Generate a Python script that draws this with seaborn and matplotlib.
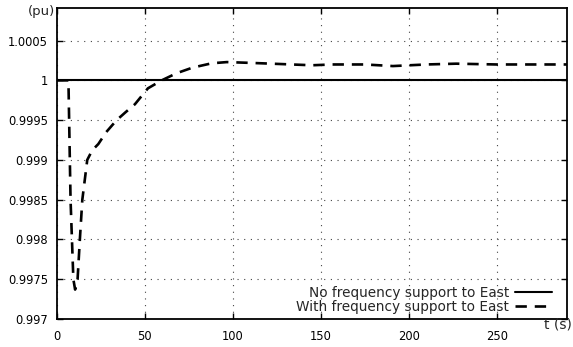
import matplotlib
matplotlib.use("Agg")
import matplotlib.pyplot as plt
import seaborn as sns
import pandas as pd

# Data
t_no = [0, 290]
v_no = [1.0, 1.0]

t_with = [0, 3, 6.5, 7.7, 9.3, 10.3, 11.7, 13.0, 14.4, 17.2, 20.0, 23.5, 28.0, 33.9, 39.0,
          44.3, 51.7, 59.5, 68.0, 77.0, 88.0, 96.6, 110.0, 122.0, 133.5, 145.0,
          156.6, 175.0, 191.0, 210.0, 227.0, 250.0, 270.0, 290.0]
v_with = [1.0, 1.0, 1.0, 0.9985, 0.9975, 0.99737, 0.9975, 0.998, 0.9985, 0.999, 0.99912,
          0.9992, 0.99935, 0.9995, 0.9996, 0.9997, 0.9999, 1.0, 1.00009, 1.00016,
          1.000215, 1.00023, 1.00022, 1.00021, 1.0002, 1.00019, 1.0002, 1.0002,
          1.00018, 1.0002, 1.00021, 1.0002, 1.0002, 1.0002]

labels = ["No frequency support to East", "With frequency support to East"]
xticks = [0, 50, 100, 150, 200, 250]
yticks = [0.997, 0.9975, 0.998, 0.9985, 0.999, 0.9995, 1.0, 1.0005]
ytick_labels = ["0.997", "0.9975", "0.998", "0.9985", "0.999", "0.9995", "1", "1.0005"]

df_no = pd.DataFrame({"t": t_no, "v": v_no})
df_with = pd.DataFrame({"t": t_with, "v": v_with})

sns.set_style("ticks")
plt.rcParams["font.family"] = ["DejaVu Sans"]

W, H = 573, 347
fig = plt.figure(figsize=(W / 100, H / 100), dpi=100)
ax = fig.add_axes([57 / W, 1 - 319 / H, (567 - 57) / W, (319 - 8) / H])

sns.lineplot(data=df_no, x="t", y="v", ax=ax, color="black", linewidth=1.5,
             label=labels[0], estimator=None, sort=False)
sns.lineplot(data=df_with, x="t", y="v", ax=ax, color="black", linewidth=1.9,
             label=labels[1], estimator=None, sort=False)
ax.lines[1].set_dashes([4.3, 3.0])

ax.set_xlim(0, 290)
ax.set_ylim(0.997, 1.00091)
ax.set_xticks(xticks)
ax.set_xticklabels([str(x) for x in xticks])
ax.set_yticks(yticks)
ax.set_yticklabels(ytick_labels)
ax.set_xlabel("")
ax.set_ylabel("")

ax.grid(True, linestyle=(0, (1, 5)), color="#444444", linewidth=0.8)
ax.tick_params(direction="in", length=4, width=1, top=True, right=True,
               labelsize=8.3, colors="black")
ax.tick_params(axis="y", pad=6.5)
ax.tick_params(axis="x", pad=8)
for s in ax.spines.values():
    s.set_linewidth(1.3)
    s.set_color("black")

fig.text(55.5 / W, 1 - 11 / H, "(pu)", ha="right", va="center", fontsize=9.5)
fig.text(572 / W, 1 - 318 / H, "t (s)", ha="right", va="top", fontsize=10)

leg = ax.legend(loc="lower right", frameon=False, markerfirst=False,
                fontsize=9.8, handlelength=2.75, borderaxespad=0, borderpad=0,
                labelspacing=0.0, handletextpad=0.4,
                bbox_to_anchor=((552 - 57) / 510, (319 - 314) / 311))
for txt in leg.get_texts():
    txt.set_ha("right")
leg._legend_box.align = "right"

fig.savefig("out.png", dpi=100)
